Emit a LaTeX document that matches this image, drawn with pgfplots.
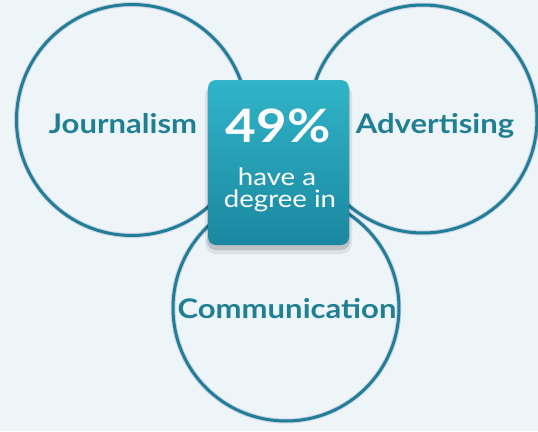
\documentclass[border=0pt]{standalone}
\usepackage{pgfplots}
\pgfplotsset{compat=1.18}
\usepackage{fontspec}
\setmainfont{Lato}[FakeStretch=1.15]
\definecolor{bg}{HTML}{EEF5F8}
\definecolor{ring}{HTML}{1F7F97}
\definecolor{halo}{HTML}{9A8CC4}
\definecolor{boxtop}{HTML}{31B4C8}
\definecolor{boxbot}{HTML}{1A88A0}
\definecolor{lbl}{HTML}{217F94}

\begin{document}
\begin{tikzpicture}
\begin{axis}[
    x=1pt, y=1pt,
    xmin=0, xmax=538, ymin=0, ymax=431,
    y dir=reverse,              % pixel-style coordinates, y going down
    hide axis, scale only axis,
    clip marker paths=true,
]
  % background
  \addplot[draw=none, fill=bg] coordinates {(0,0) (538,0) (538,431) (0,431)} -- cycle;

  % rings (centre given as data, radius as mark size)
  \addplot[only marks, mark=o, mark size=115.5pt,
    mark options={draw=halo, line width=5pt, opacity=0.35}] coordinates {(132,120)};
  \addplot[only marks, mark=o, mark size=115.5pt,
    mark options={draw=ring, line width=3pt}] coordinates {(132,120)};
  \addplot[only marks, mark=o, mark size=114pt,
    mark options={draw=halo, line width=5pt, opacity=0.35}] coordinates {(423,119)};
  \addplot[only marks, mark=o, mark size=114pt,
    mark options={draw=ring, line width=3pt}] coordinates {(423,119)};
  \addplot[only marks, mark=o, mark size=113pt,
    mark options={draw=halo, line width=5pt, opacity=0.35}] coordinates {(286,308)};
  \addplot[only marks, mark=o, mark size=113pt,
    mark options={draw=ring, line width=3pt}] coordinates {(286,308)};

  % shadow under the box
  \addplot[draw=none, fill=black, opacity=0.08, rounded corners=11pt]
    coordinates {(278.5,84) (352,84) (352,254) (205,254) (205,84)} -- cycle;
  \addplot[draw=none, fill=black, opacity=0.14, rounded corners=9pt]
    coordinates {(278.5,84) (350,84) (350,250) (207,250) (207,84)} -- cycle;

  % centre box
  \addplot[draw=none, top color=boxtop, bottom color=boxbot, rounded corners=8pt]
    coordinates {(278.5,80) (349,80) (349,245) (208,245) (208,80)} -- cycle;

  % texts
  \node[anchor=base, text=lbl, font=\fontsize{27}{30}\selectfont\bfseries]
    at (axis cs:123,133) {Journalism};
  \node[anchor=base, text=lbl, font=\fontsize{27}{30}\selectfont\bfseries]
    at (axis cs:435,133) {Advertising};
  \node[anchor=base, text=lbl, font=\fontsize{27}{30}\selectfont\bfseries]
    at (axis cs:287,318) {Communication};
  \node[anchor=base, text=white, inner sep=0pt, font=\fontsize{46}{50}\selectfont\bfseries]
    at (axis cs:278,142) {49\%};
  \node[anchor=base, text=white, inner sep=0pt, font=\fontsize{24}{26}\selectfont]
    at (axis cs:277,185) {have a};
  \node[anchor=base, text=white, inner sep=0pt, font=\fontsize{24}{26}\selectfont]
    at (axis cs:280,207) {degree in};
\end{axis}
\end{tikzpicture}
\end{document}
